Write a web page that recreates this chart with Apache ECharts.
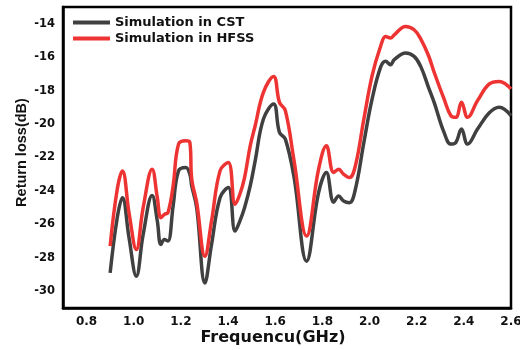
<!DOCTYPE html>
<html>
<head>
<meta charset="utf-8">
<script src="https://cdn.jsdelivr.net/npm/echarts@6/dist/echarts.min.js"></script>
<style>
  html, body { margin: 0; padding: 0; background: #fff; }
  #chart { width: 520px; height: 350px; }
</style>
</head>
<body>
<div id="chart"></div>
<script>
// Frequency samples (GHz) shared by both simulations
const freq = [0.90, 0.93, 0.952, 0.98, 1.011, 1.04, 1.078, 1.10, 1.115, 1.13, 1.145, 1.167, 1.19, 1.221, 1.238, 1.246, 1.267,
  1.302, 1.33, 1.366, 1.401, 1.43, 1.45, 1.47, 1.494, 1.515, 1.55, 1.593, 1.618, 1.643, 1.68, 1.733, 1.784, 1.817,
  1.848, 1.869, 1.89, 1.915, 1.94, 1.976, 2.011, 2.047, 2.068, 2.089, 2.105, 2.153, 2.189, 2.217, 2.25, 2.274,
  2.316, 2.345, 2.366, 2.39, 2.416, 2.458, 2.508, 2.55, 2.6];

// Return loss (dB) from CST
const lossCST = [-28.9, -25.6, -24.4, -26.8, -29.1, -26.6, -24.27, -25.8, -27.2, -26.9, -27.0, -24.9, -22.8, -22.6, -23.0, -23.7, -25.0,
  -29.5, -27.2, -24.4, -23.8, -26.4, -25.8, -25.0, -23.7, -22.2, -19.7, -18.8, -20.5, -20.9, -23.2, -28.2, -24.1, -22.9,
  -24.67, -24.3, -24.6, -24.7, -23.9, -21.1, -18.5, -16.6, -16.25, -16.45, -16.15, -15.75, -15.95, -16.55, -17.8, -18.7,
  -20.5, -21.2, -21.1, -20.3, -21.2, -20.3, -19.33, -19.0, -19.5];

// Return loss (dB) from HFSS
const lossHFSS = [-27.3, -23.9, -22.8, -25.3, -27.5, -25.0, -22.7, -24.4, -25.6, -25.4, -25.3, -23.7, -21.2, -21.0, -21.1, -23.3, -24.7,
  -27.9, -25.8, -22.8, -22.3, -24.8, -24.2, -23.2, -21.3, -20.1, -18.1, -17.15, -18.7, -19.2, -22.2, -26.7, -22.7, -21.3,
  -22.9, -22.7, -23.0, -23.2, -22.5, -19.7, -17.1, -15.35, -14.76, -14.86, -14.66, -14.16, -14.36, -14.9, -15.9, -16.9,
  -18.5, -19.5, -19.6, -18.7, -19.6, -18.6, -17.6, -17.45, -17.9];

// Tick labels
const xTicks = [0.8, 1.0, 1.2, 1.4, 1.6, 1.8, 2.0, 2.2, 2.4, 2.6];
const yTicks = [-30, -28, -26, -24, -22, -20, -18, -16, -14];

const seriesNames = ['Simulation in CST', 'Simulation in HFSS'];
const seriesColors = ['#404040', '#ee3333'];

const pairs = (ys) => freq.map((f, i) => [f, ys[i]]);

const wideFont = '"DejaVu Sans", sans-serif';
const narrowFont = '"Liberation Sans", Arial, sans-serif';
const chart = echarts.init(document.getElementById('chart'));

chart.setOption({
  animation: false,
  backgroundColor: '#fff',
  grid: {
    left: 63, right: 9, top: 7, bottom: 42,
    outerBoundsMode: 'none',
    show: true, borderColor: '#000', borderWidth: 2.5
  },
  legend: {
    orient: 'vertical',
    left: 73, top: 16,
    padding: 0,
    icon: 'rect',
    itemWidth: 37, itemHeight: 4, itemGap: 3,
    data: seriesNames,
    textStyle: { fontFamily: wideFont, fontWeight: 'bold', fontSize: 13, color: '#111' }
  },
  xAxis: {
    type: 'value',
    min: 0.7, max: 2.6,
    name: 'Frequencu(GHz)',
    nameLocation: 'middle',
    nameGap: 22,
    nameMoveOverlap: false,
    nameTextStyle: { fontFamily: wideFont, fontWeight: 'bold', fontSize: 16, color: '#111', padding: [0, 28, 0, 0] },
    axisLine: { lineStyle: { color: '#000', width: 2.5 } },
    axisTick: { show: false },
    splitLine: { show: false },
    axisLabel: {
      customValues: xTicks,
      margin: 8,
      fontFamily: wideFont, fontWeight: 'bold', fontSize: 12, color: '#111',
      formatter: (v) => v.toFixed(1)
    }
  },
  yAxis: {
    type: 'value',
    min: -31, max: -13,
    name: 'Return loss(dB)',
    nameLocation: 'middle',
    nameGap: 34,
    nameMoveOverlap: false,
    nameTextStyle: { fontFamily: narrowFont, fontWeight: 'bold', fontSize: 14.5, color: '#111', padding: [0, 0, 0, 10] },
    axisLine: { lineStyle: { color: '#000', width: 2.5 } },
    axisTick: { show: false },
    splitLine: { show: false },
    axisLabel: {
      customValues: yTicks,
      margin: 8,
      fontFamily: wideFont, fontWeight: 'bold', fontSize: 11.5, color: '#111'
    }
  },
  series: [
    {
      name: seriesNames[0], type: 'line', data: pairs(lossCST),
      symbol: 'none', smooth: 0.4,
      lineStyle: { color: seriesColors[0], width: 3.5 },
      itemStyle: { color: seriesColors[0] }
    },
    {
      name: seriesNames[1], type: 'line', data: pairs(lossHFSS),
      symbol: 'none', smooth: 0.4,
      lineStyle: { color: seriesColors[1], width: 3.5 },
      itemStyle: { color: seriesColors[1] }
    }
  ]
});
</script>
</body>
</html>
